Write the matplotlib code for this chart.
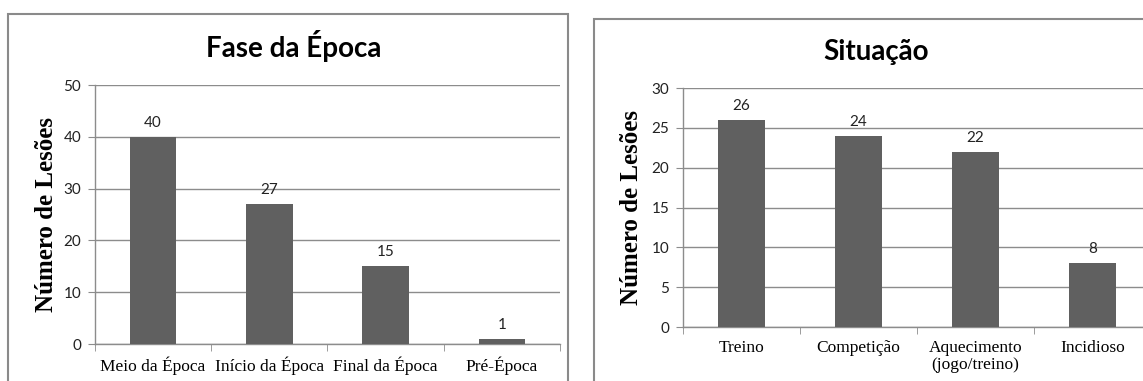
import matplotlib.pyplot as plt
from matplotlib.patches import Rectangle

# Fase da Época
fase_cats = ["Meio da Época", "Início da Época", "Final da Época", "Pré-Época"]
fase_vals = [40, 27, 15, 1]

# Situação
sit_cats = ["Treino", "Competição", "Aquecimento\n(jogo/treino)", "Incidioso"]
sit_vals = [26, 24, 22, 8]

BAR = "#606060"
GRID = "#8c8c8c"
TITLE_FONT = "Lato"
SERIF = "Liberation Serif"


def bar_panel(ax, cats, vals, ymax, step, title, title_x):
    x = range(len(cats))
    ax.bar(x, vals, width=0.4, color=BAR, zorder=3)
    for xi, v in zip(x, vals):
        ax.annotate(str(v), (xi, v), xytext=(0, 5), textcoords="offset points",
                    ha="center", va="bottom", fontsize=11, family=TITLE_FONT,
                    color="#222222", zorder=4)
    ax.set_xlim(-0.5, len(cats) - 0.5)
    ax.set_ylim(0, ymax)
    ax.set_yticks(range(0, ymax + 1, step))
    ax.yaxis.grid(True, color=GRID, linewidth=1.0, zorder=0)
    ax.set_axisbelow(True)
    for s in ("top", "right"):
        ax.spines[s].set_visible(False)
    for s in ("left", "bottom"):
        ax.spines[s].set_color(GRID)
        ax.spines[s].set_linewidth(1.0)
    ax.set_xticks(list(x))
    ax.set_xticklabels(cats, family=SERIF, fontsize=12.5, linespacing=1.15)
    ax.set_xticks([i - 0.5 for i in range(len(cats) + 1)], minor=True)
    ax.tick_params(axis="x", which="major", length=0, pad=9)
    ax.tick_params(axis="x", which="minor", length=5, color=GRID, direction="out")
    ax.tick_params(axis="y", length=5, color=GRID, pad=5, labelsize=11,
                   labelcolor="#222222")
    for lab in ax.get_yticklabels():
        lab.set_family(TITLE_FONT)
    ax.set_ylabel("Número de Lesões", family=SERIF, fontweight="bold", fontsize=18)
    # title sits over the middle of the chart frame, not the plot area
    ax.set_title(title, family=TITLE_FONT, fontweight="bold", fontsize=20, pad=20,
                 x=title_x)


fig = plt.figure(figsize=(11.43, 3.81), dpi=100)

ax1 = fig.add_axes([0.0831, 0.0971, 0.4068, 0.6798])
bar_panel(ax1, fase_cats, fase_vals, 50, 10, "Fase da Época", 0.428)
ax1.yaxis.set_label_coords(-0.08, 0.5)

ax2 = fig.add_axes([0.5976, 0.1417, 0.4094, 0.6273])
bar_panel(ax2, sit_cats, sit_vals, 30, 5, "Situação", 0.412)
ax2.yaxis.set_label_coords(-0.085, 0.5)

# chart frames
fig.patches.append(Rectangle((8 / 1143, -0.05), 560 / 1143, (381 + 19 - 14) / 381,
                             transform=fig.transFigure, fill=False,
                             edgecolor="#8a8a8a", linewidth=1.5))
fig.patches.append(Rectangle((594 / 1143, -0.05), 0.6, (381 + 19 - 19) / 381,
                             transform=fig.transFigure, fill=False,
                             edgecolor="#8a8a8a", linewidth=1.5))

fig.savefig("out.png", dpi=100)
